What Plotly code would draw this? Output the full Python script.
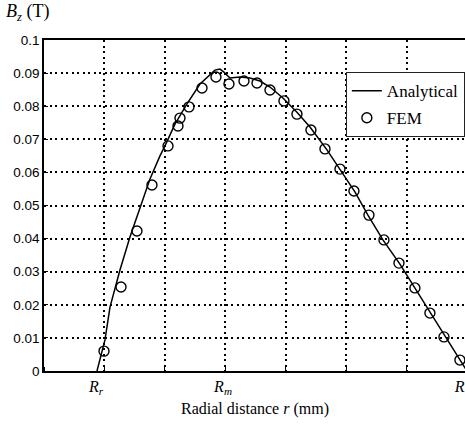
import plotly.graph_objects as go

# Analytical curve (r in mm, Bz in T)
r_analytical = [8.76, 10.08, 10.91, 12.56, 14.21, 15.87, 17.52, 19.17, 20.0, 21.65, 23.64,
                25.79, 27.44, 28.26, 29.09, 29.75, 30.74, 32.40, 34.05, 35.70, 37.36,
                39.50, 41.82, 43.97, 46.78, 48.93, 51.40, 53.55, 56.03, 58.84, 61.32,
                63.80, 66.28, 68.76, 69.92]
bz_analytical = [0.0, 0.0094, 0.0193, 0.0305, 0.0405, 0.0495, 0.0580, 0.0650, 0.0680, 0.0746,
                 0.0807, 0.0867, 0.0897, 0.0909, 0.0912, 0.0903, 0.0885, 0.0888, 0.0885,
                 0.0876, 0.0858, 0.0825, 0.0782, 0.0737, 0.0668, 0.0607, 0.0541, 0.0471,
                 0.0396, 0.0323, 0.0251, 0.0175, 0.0103, 0.0033, 0.0]

# FEM results
r_fem = [9.92, 12.73, 15.37, 17.85, 20.50, 22.15, 22.48, 23.97, 26.12, 28.43, 30.58, 33.06,
         35.21, 37.36, 39.67, 41.82, 44.13, 46.45, 48.93, 51.24, 53.72, 56.20, 58.68,
         61.32, 63.80, 66.12, 68.76]
bz_fem = [0.0060, 0.0254, 0.0423, 0.0562, 0.0680, 0.0740, 0.0764, 0.0798, 0.0855, 0.0888,
          0.0867, 0.0876, 0.0870, 0.0849, 0.0816, 0.0776, 0.0728, 0.0671, 0.0610, 0.0544,
          0.0471, 0.0396, 0.0326, 0.0251, 0.0175, 0.0103, 0.0033]

x_tick_vals = [8.6, 29.6, 68.7]
x_tick_text = ["<i>R</i><sub><i>r</i></sub>", "<i>R</i><sub><i>m</i></sub>", "<i>R</i>"]
y_tick_vals = [0, 0.01, 0.02, 0.03, 0.04, 0.05, 0.06, 0.07, 0.08, 0.09, 0.1]
y_tick_text = ["0", "0.01", "0.02", "0.03", "0.04", "0.05", "0.06", "0.07", "0.08", "0.09", "0.1"]

fig = go.Figure()
fig.add_trace(go.Scatter(x=r_analytical, y=bz_analytical, mode="lines", name="Analytical",
                         legendgroup="a",
                         line=dict(color="black", width=1.5)))
fig.add_trace(go.Scatter(x=r_fem, y=bz_fem, mode="markers", name="FEM", legendgroup="b",
                         marker=dict(symbol="circle-open", size=10, color="black",
                                     line=dict(width=1.4, color="black"))))

grid_dash = "2px,3.5px"
fig.update_layout(
    width=465, height=426,
    margin=dict(l=44, r=0, t=40, b=55),
    paper_bgcolor="white", plot_bgcolor="white",
    showlegend=True,
    legend=dict(x=0.717, y=0.903, xanchor="left", yanchor="top",
                bgcolor="white", bordercolor="#222", borderwidth=1,
                font=dict(family="Liberation Serif", size=17, color="black"),
                itemwidth=30, tracegroupgap=2),
    xaxis=dict(range=[0, 69.6], showline=True, linecolor="black", linewidth=1.5, mirror=True,
               tickmode="array", tickvals=x_tick_vals, ticktext=x_tick_text, ticks="",
               showgrid=False, zeroline=False, ticklabelstandoff=0,
               tickfont=dict(family="Liberation Serif", size=16, color="black"),
               minor=dict(tick0=0, dtick=10, showgrid=True, gridcolor="black", gridwidth=1.6,
                          griddash=grid_dash, ticks="inside", ticklen=4, tickcolor="black")),
    yaxis=dict(range=[0, 0.1], showline=True, linecolor="black", linewidth=1.5, mirror=False,
               tickmode="array", tickvals=y_tick_vals, ticktext=y_tick_text,
               ticks="inside", ticklen=4, tickcolor="black",
               showgrid=True, gridcolor="black", gridwidth=1.6, griddash=grid_dash,
               zeroline=False,
               tickfont=dict(family="Liberation Sans", size=13.5, color="black")),
    annotations=[
        dict(text="<i>B<sub>z</sub></i> (T)", x=0, y=1, xref="paper", yref="paper",
             xanchor="left", yanchor="bottom", xshift=-40, yshift=14, showarrow=False,
             font=dict(family="Liberation Serif", size=18, color="black")),
        dict(text="Radial distance <i>r</i> (mm)", x=0.5, y=0, xref="paper", yref="paper",
             xanchor="center", yanchor="middle", yshift=-38, showarrow=False,
             font=dict(family="Liberation Serif", size=16, color="black")),
    ],
)

fig.write_html("out.html")
